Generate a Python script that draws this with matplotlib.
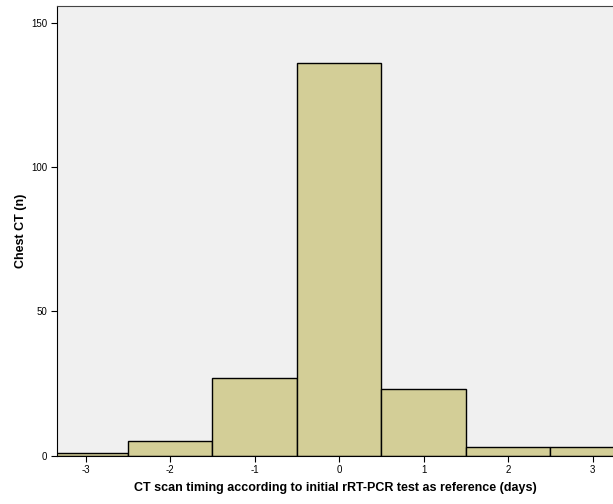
import matplotlib
matplotlib.use("Agg")
import matplotlib.pyplot as plt

days = [-3, -2, -1, 0, 1, 2, 3]
counts = [1, 5, 27, 136, 23, 3, 3]

plt.rcParams["font.family"] = ["Liberation Sans", "DejaVu Sans"]
plt.rcParams["axes.unicode_minus"] = False

fig = plt.figure(figsize=(6.13, 5.04), dpi=100)
ax = fig.add_axes([0.093, 0.0962, 0.907, 0.8925])
ax.set_facecolor("#f0f0f0")

ax.bar(days, counts, width=1.0, color="#d3ce97", edgecolor="black", linewidth=1.0)

ax.set_xlim(-3.34, 3.24)
ax.set_ylim(0, 156)
ax.set_xticks(days)
ax.set_yticks([0, 50, 100, 150])
ax.tick_params(axis="both", labelsize=7, length=4, width=0.8, direction="out", pad=3)

ax.spines["right"].set_visible(False)
ax.spines["top"].set_color("#444444")

ax.set_xlabel("CT scan timing according to initial rRT-PCR test as reference (days)",
              fontsize=9, fontweight="bold", labelpad=5)
ax.set_ylabel("Chest CT (n)", fontsize=9, fontweight="bold", labelpad=3)

fig.savefig("out.png", dpi=100)
